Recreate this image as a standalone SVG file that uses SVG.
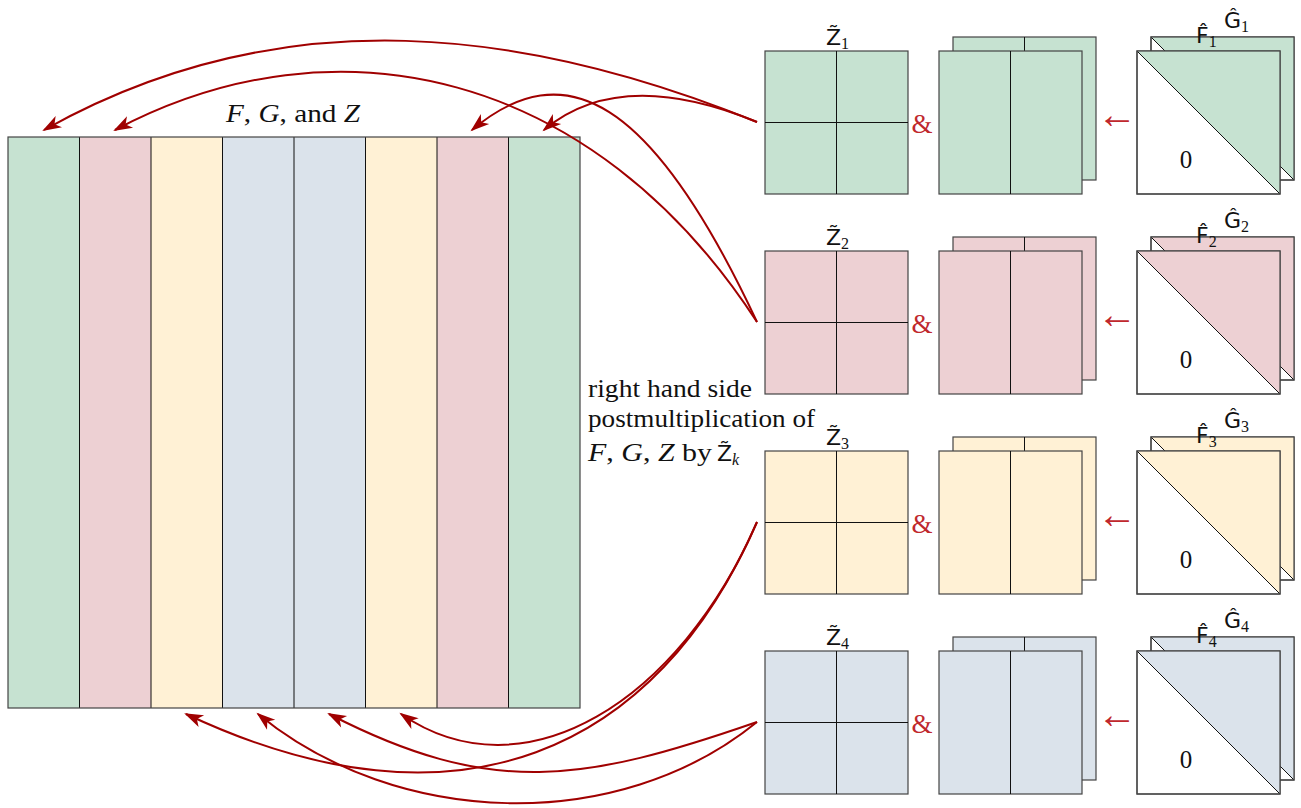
<svg xmlns="http://www.w3.org/2000/svg" width="1301" height="808" viewBox="0 0 1301 808">
<style>
.g{fill:#C6E2D1}.p{fill:#EDD0D3}.y{fill:#FFF1D5}.b{fill:#DBE3EB}.w{fill:#fff}
.ol{stroke:#444;stroke-width:1.2}
.ln{stroke:#111;stroke-width:1;fill:none}
.conn path{fill:none;stroke:#a00000;stroke-width:2;marker-end:url(#ah)}
.serif{font-family:"Liberation Serif","Times New Roman",serif;font-size:25px;fill:#111}
.sans{font-family:"DejaVu Sans","Liberation Sans",sans-serif;font-size:22px;fill:#111}
.sub{font-family:"Liberation Serif","Times New Roman",serif;font-size:16px}
.it{font-style:italic}
.red{fill:#c0282d}
.amp{font-size:27px}
.arr{font-family:"Liberation Serif","Times New Roman",serif;font-size:40px;fill:#c0282d}
</style>
<defs>
<marker id="ah" markerUnits="userSpaceOnUse" markerWidth="24" markerHeight="16" viewBox="-20 -8 24 16" refX="0" refY="0" orient="auto">
<path d="M2,0 L-17,-6.5 L-12,0 L-17,6.5 Z" fill="#a00000"/>
</marker>
</defs>
<rect width="1301" height="808" fill="#fff"/>

<g id="big-matrix">
<rect x="8" y="137" width="71.5" height="571" class="g"/>
<rect x="79.5" y="137" width="71.5" height="571" class="p"/>
<rect x="151" y="137" width="71.5" height="571" class="y"/>
<rect x="222.5" y="137" width="71.5" height="571" class="b"/>
<rect x="294" y="137" width="71.5" height="571" class="b"/>
<rect x="365.5" y="137" width="71.5" height="571" class="y"/>
<rect x="437" y="137" width="71.5" height="571" class="p"/>
<rect x="508.5" y="137" width="71.5" height="571" class="g"/>
<path class="ln" d="M79.5,137V708M151,137V708M222.5,137V708M294,137V708M365.5,137V708M437,137V708M508.5,137V708"/>
<rect x="8" y="137" width="572" height="571" fill="none" class="ol"/>
<text class="serif" x="226" y="122" textLength="134" lengthAdjust="spacingAndGlyphs"><tspan class="it">F</tspan>, <tspan class="it">G</tspan>, and <tspan class="it">Z</tspan></text>
</g>

<g id="caption">
<text class="serif" x="588" y="397" textLength="164" lengthAdjust="spacingAndGlyphs">right hand side</text>
<text class="serif" x="588" y="427" textLength="227" lengthAdjust="spacingAndGlyphs">postmultiplication of</text>
<text class="serif" x="588" y="461" textLength="124" lengthAdjust="spacingAndGlyphs"><tspan class="it">F</tspan>, <tspan class="it">G</tspan>, <tspan class="it">Z</tspan> by</text>
<text class="sans" x="717" y="461">Z̃<tspan class="sub it" dy="4">k</tspan></text>
</g>

<!-- Row 1 -->
<g id="z1">
<rect x="765" y="51" width="143" height="143" class="g ol"/>
<path class="ln" d="M836.5,51V194M765,122.5H908"/>
<text class="sans" x="826" y="45">Z̃<tspan class="sub" dy="4">1</tspan></text>
</g>
<text class="serif red amp" x="922" y="133" text-anchor="middle">&amp;</text>
<g id="fg1">
<rect x="953" y="37" width="143" height="143" class="g ol"/>
<path class="ln" d="M1024.5,37V180"/>
<rect x="939" y="51" width="143" height="143" class="g ol"/>
<path class="ln" d="M1010.5,51V194"/>
</g>
<text class="arr" x="1117" y="128" text-anchor="middle">←</text>
<g id="fghat1">
<rect x="1151" y="37" width="143" height="143" class="w ol"/>
<path d="M1151,37H1294V180Z" class="g"/>
<path class="ln" d="M1151,37L1294,180"/>
<rect x="1151" y="37" width="143" height="143" fill="none" class="ol"/>
<rect x="1137" y="51" width="143" height="143" class="w ol"/>
<path d="M1137,51H1280V194Z" class="g"/>
<path class="ln" d="M1137,51L1280,194"/>
<rect x="1137" y="51" width="143" height="143" fill="none" class="ol"/>
<text class="serif" x="1186" y="168" text-anchor="middle">0</text>
<text class="sans" x="1196" y="43">F̂<tspan class="sub" dy="4">1</tspan></text>
<text class="sans" x="1224" y="28">Ĝ<tspan class="sub" dy="4">1</tspan></text>
</g>

<!-- Row 2 -->
<g id="z2">
<rect x="765" y="251" width="143" height="143" class="p ol"/>
<path class="ln" d="M836.5,251V394M765,322.5H908"/>
<text class="sans" x="826" y="245">Z̃<tspan class="sub" dy="4">2</tspan></text>
</g>
<text class="serif red amp" x="922" y="333" text-anchor="middle">&amp;</text>
<g id="fg2">
<rect x="953" y="237" width="143" height="143" class="p ol"/>
<path class="ln" d="M1024.5,237V380"/>
<rect x="939" y="251" width="143" height="143" class="p ol"/>
<path class="ln" d="M1010.5,251V394"/>
</g>
<text class="arr" x="1117" y="328" text-anchor="middle">←</text>
<g id="fghat2">
<rect x="1151" y="237" width="143" height="143" class="w ol"/>
<path d="M1151,237H1294V380Z" class="p"/>
<path class="ln" d="M1151,237L1294,380"/>
<rect x="1151" y="237" width="143" height="143" fill="none" class="ol"/>
<rect x="1137" y="251" width="143" height="143" class="w ol"/>
<path d="M1137,251H1280V394Z" class="p"/>
<path class="ln" d="M1137,251L1280,394"/>
<rect x="1137" y="251" width="143" height="143" fill="none" class="ol"/>
<text class="serif" x="1186" y="368" text-anchor="middle">0</text>
<text class="sans" x="1196" y="243">F̂<tspan class="sub" dy="4">2</tspan></text>
<text class="sans" x="1224" y="228">Ĝ<tspan class="sub" dy="4">2</tspan></text>
</g>

<!-- Row 3 -->
<g id="z3">
<rect x="765" y="451" width="143" height="143" class="y ol"/>
<path class="ln" d="M836.5,451V594M765,522.5H908"/>
<text class="sans" x="826" y="445">Z̃<tspan class="sub" dy="4">3</tspan></text>
</g>
<text class="serif red amp" x="922" y="533" text-anchor="middle">&amp;</text>
<g id="fg3">
<rect x="953" y="437" width="143" height="143" class="y ol"/>
<path class="ln" d="M1024.5,437V580"/>
<rect x="939" y="451" width="143" height="143" class="y ol"/>
<path class="ln" d="M1010.5,451V594"/>
</g>
<text class="arr" x="1117" y="528" text-anchor="middle">←</text>
<g id="fghat3">
<rect x="1151" y="437" width="143" height="143" class="w ol"/>
<path d="M1151,437H1294V580Z" class="y"/>
<path class="ln" d="M1151,437L1294,580"/>
<rect x="1151" y="437" width="143" height="143" fill="none" class="ol"/>
<rect x="1137" y="451" width="143" height="143" class="w ol"/>
<path d="M1137,451H1280V594Z" class="y"/>
<path class="ln" d="M1137,451L1280,594"/>
<rect x="1137" y="451" width="143" height="143" fill="none" class="ol"/>
<text class="serif" x="1186" y="568" text-anchor="middle">0</text>
<text class="sans" x="1196" y="443">F̂<tspan class="sub" dy="4">3</tspan></text>
<text class="sans" x="1224" y="428">Ĝ<tspan class="sub" dy="4">3</tspan></text>
</g>

<!-- Row 4 -->
<g id="z4">
<rect x="765" y="651" width="143" height="143" class="b ol"/>
<path class="ln" d="M836.5,651V794M765,722.5H908"/>
<text class="sans" x="826" y="645">Z̃<tspan class="sub" dy="4">4</tspan></text>
</g>
<text class="serif red amp" x="922" y="733" text-anchor="middle">&amp;</text>
<g id="fg4">
<rect x="953" y="637" width="143" height="143" class="b ol"/>
<path class="ln" d="M1024.5,637V780"/>
<rect x="939" y="651" width="143" height="143" class="b ol"/>
<path class="ln" d="M1010.5,651V794"/>
</g>
<text class="arr" x="1117" y="728" text-anchor="middle">←</text>
<g id="fghat4">
<rect x="1151" y="637" width="143" height="143" class="w ol"/>
<path d="M1151,637H1294V780Z" class="b"/>
<path class="ln" d="M1151,637L1294,780"/>
<rect x="1151" y="637" width="143" height="143" fill="none" class="ol"/>
<rect x="1137" y="651" width="143" height="143" class="w ol"/>
<path d="M1137,651H1280V794Z" class="b"/>
<path class="ln" d="M1137,651L1280,794"/>
<rect x="1137" y="651" width="143" height="143" fill="none" class="ol"/>
<text class="serif" x="1186" y="768" text-anchor="middle">0</text>
<text class="sans" x="1196" y="643">F̂<tspan class="sub" dy="4">4</tspan></text>
<text class="sans" x="1224" y="628">Ĝ<tspan class="sub" dy="4">4</tspan></text>
</g>

<g id="connectors" class="conn">
<path d="M757,122 C530,30 285,-5 44,130"/>
<path d="M757,122 C684,92 604.5,79 544,130"/>
<path d="M757,322 C593,70 336,13 115,130"/>
<path d="M757,322 C651,95.5 564,52.8 472,130"/>
<path d="M757,522 C657,752 458,842 186,714"/>
<path d="M757,522 C680,700 525,799 401,714"/>
<path d="M757,722 C618,835 397,828 258,714"/>
<path d="M757,722 C584,782 492,798 329,714"/>
</g>
</svg>
